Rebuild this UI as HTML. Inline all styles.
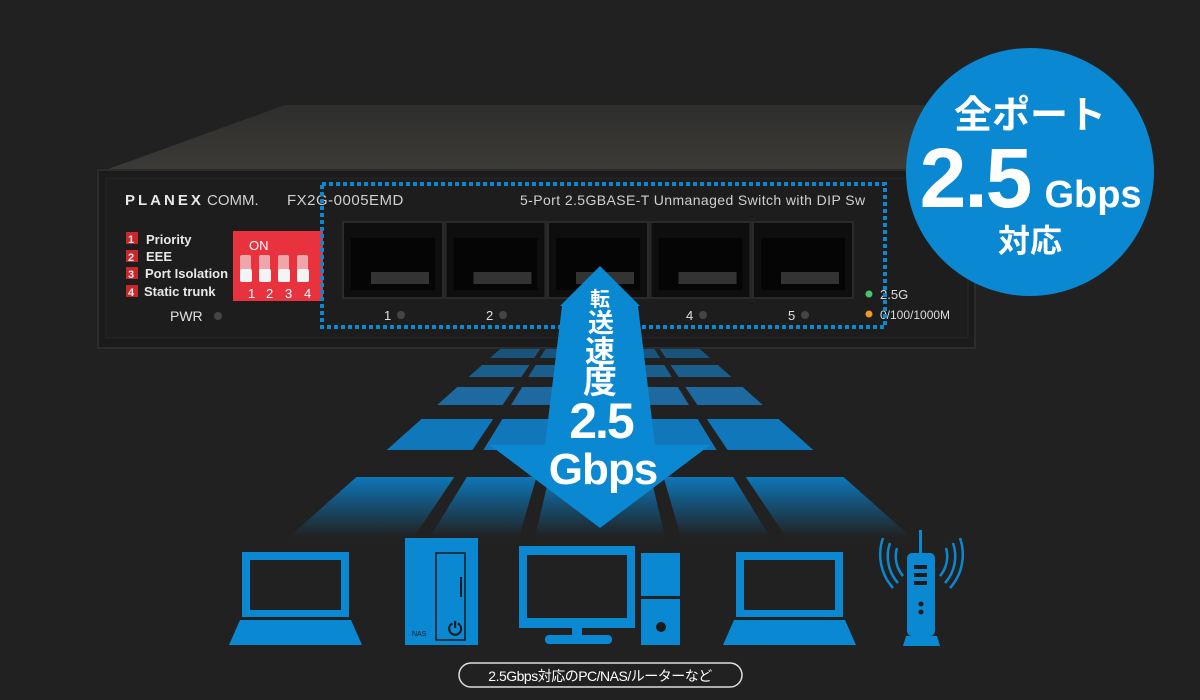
<!DOCTYPE html>
<html><head><meta charset="utf-8"><style>
html,body{margin:0;padding:0;background:#212121;}
svg{display:block}
text{font-family:"Liberation Sans","Noto Sans CJK JP",sans-serif;}
</style></head><body>
<svg id="s" width="1200" height="700" viewBox="0 0 1200 700" xmlns="http://www.w3.org/2000/svg">
<defs>
<linearGradient id="fade" x1="0" y1="0" x2="0" y2="1">
<stop offset="0" stop-color="#0b80c8" stop-opacity="0.9"/>
<stop offset="1" stop-color="#0b80c8" stop-opacity="0"/>
</linearGradient>
<linearGradient id="top" x1="0" y1="0" x2="0" y2="1">
<stop offset="0" stop-color="#2e2e2c"/><stop offset="1" stop-color="#3c3b38"/>
</linearGradient>
</defs>
<rect width="1200" height="700" fill="#212121"/>
<g id="stripes"></g>
<!-- switch -->
<polygon points="100,172 285,105 930,105 975,172" fill="url(#top)"/>
<rect x="98" y="170" width="877" height="178" fill="#1b1b1b" stroke="#2c2c2c" stroke-width="2"/>
<rect x="106" y="178" width="862" height="160" fill="#1d1d1d" stroke="#262626" stroke-width="1"/>
<text x="125" y="205" fill="#e8e8e8" font-size="15" font-weight="bold" letter-spacing="3">PLANEX</text>
<text x="207" y="205" fill="#d0d0d0" font-size="15">COMM.</text>
<text x="287" y="205" fill="#d0d0d0" font-size="15" letter-spacing="0.5">FX2G-0005EMD</text>
<text x="520" y="205" fill="#d0d0d0" font-size="14" letter-spacing="0.4">5-Port 2.5GBASE-T Unmanaged Switch with DIP Sw</text>
<g font-size="13" font-weight="bold" fill="#e8e8e8">
<rect x="126" y="232" width="12" height="12" fill="#c8282c"/><text x="128" y="243" font-size="11">1</text><text x="146" y="244">Priority</text>
<rect x="126" y="250" width="12" height="12" fill="#c8282c"/><text x="128" y="261" font-size="11">2</text><text x="146" y="261">EEE</text>
<rect x="126" y="267" width="12" height="12" fill="#c8282c"/><text x="128" y="278" font-size="11">3</text><text x="145" y="278">Port Isolation</text>
<rect x="126" y="285" width="12" height="12" fill="#c8282c"/><text x="128" y="296" font-size="11">4</text><text x="144" y="296">Static trunk</text>
</g>
<text x="170" y="321" fill="#e0e0e0" font-size="14">PWR</text>
<circle cx="218" cy="316" r="4" fill="#444"/>
<rect x="233" y="231" width="90" height="70" fill="#e8333f"/>
<text x="249" y="250" fill="#fff" font-size="13">ON</text>
<g fill="#f4f4f4">
<rect x="240" y="255" width="11" height="26" rx="2" opacity="0.6"/><rect x="259" y="255" width="11" height="26" rx="2" opacity="0.6"/><rect x="278" y="255" width="11" height="26" rx="2" opacity="0.6"/><rect x="297" y="255" width="11" height="26" rx="2" opacity="0.6"/>
<rect x="240" y="269" width="12" height="13" rx="2"/><rect x="259" y="269" width="12" height="13" rx="2"/><rect x="278" y="269" width="12" height="13" rx="2"/><rect x="297" y="269" width="12" height="13" rx="2"/>
</g>
<g fill="#fff" font-size="13"><text x="248" y="298">1</text><text x="266" y="298">2</text><text x="285" y="298">3</text><text x="304" y="298">4</text></g>
<g id="ports"></g>
<g fill="#e0e0e0" font-size="13">
<text x="384" y="320">1</text><text x="486" y="320">2</text><text x="686" y="320">4</text><text x="788" y="320">5</text>
</g>
<g fill="#444"><circle cx="401" cy="315" r="4"/><circle cx="503" cy="315" r="4"/><circle cx="703" cy="315" r="4"/><circle cx="805" cy="315" r="4"/></g>
<circle cx="869" cy="294" r="3.5" fill="#4cc26a"/><text x="880" y="299" fill="#ddd" font-size="13">2.5G</text>
<circle cx="869" cy="314" r="3.5" fill="#f0962a"/><text x="880" y="319" fill="#ddd" font-size="12">0/100/1000M</text>
<rect x="322" y="184" width="563" height="143" fill="none" stroke="#0a88d2" stroke-width="4" stroke-dasharray="4,3"/>
<!-- arrow -->
<polygon points="600,266 640,306 638,306 655,445 710,445 600,528 490,445 545,445 562,306 560,306" fill="#0a88d2"/>
<g fill="#fff" font-weight="bold" text-anchor="middle">
<text x="600" y="306" font-size="20">転</text>
<text x="601" y="332" font-size="26">送</text>
<text x="600" y="362" font-size="30">速</text>
<text x="600" y="393" font-size="34">度</text>
<text x="601" y="438" font-size="50" letter-spacing="-2">2.5</text>
<text x="603" y="484" font-size="44" letter-spacing="-1">Gbps</text>
</g>
<!-- circle -->
<circle cx="1030" cy="172" r="124" fill="#0a88d2"/>
<g fill="#fff" font-weight="bold" text-anchor="middle">
<text x="1030" y="128" font-size="38">全ポート</text>
<text x="975" y="207" font-size="84" letter-spacing="-2">2.5</text>
<text x="1093" y="207" font-size="38">Gbps</text>
<text x="1030" y="252" font-size="32">対応</text>
</g>
<!-- icons -->
<g fill="#0a88d2">
<path fill-rule="evenodd" d="M242,552h107v65h-107z M250,560v50h91v-50z"/>
<path d="M240,620h111l11,25h-133z"/>
<rect x="405" y="538" width="73" height="107"/>
<rect x="436" y="553" width="29" height="87" fill="none" stroke="#1b1b1b" stroke-width="1.5"/>
<rect x="460" y="577" width="2" height="20" fill="#1b1b1b"/>
<path fill-rule="evenodd" d="M519,546h116v82h-116z M527,555v63h100v-63z"/>
<rect x="572" y="628" width="10" height="10"/><rect x="545" y="635" width="67" height="9" rx="4"/>
<rect x="641" y="553" width="39" height="43"/><rect x="641" y="599" width="39" height="46"/>
<circle cx="661" cy="627" r="5" fill="#1b1b1b"/>
<path fill-rule="evenodd" d="M736,552h107v65h-107z M744,560v50h91v-50z"/>
<path d="M734,620h111l11,25h-133z"/>
<rect x="907" y="553" width="28" height="83" rx="5"/><rect x="919" y="530" width="3" height="25"/>
<path d="M906,636h31l3,10h-37z"/>
</g>
<g fill="#1b1b1b"><rect x="914" y="565" width="13" height="4"/><rect x="914" y="573" width="13" height="4"/><rect x="914" y="581" width="13" height="4"/><circle cx="921" cy="604" r="2.5"/><circle cx="921" cy="612" r="2.5"/></g>
<text x="412" y="636" font-size="7" fill="#1b1b1b">NAS</text>
<text x="448" y="635" font-size="18" fill="#1b1b1b" font-weight="bold">⏻</text>
<g fill="none" stroke="#0a88d2" stroke-width="2.5">
<path d="M897,548a30,30 0 0 0 6,28"/><path d="M890,543a40,40 0 0 0 8,40"/><path d="M883,538a50,50 0 0 0 10,50"/>
<path d="M946,548a30,30 0 0 1 -6,28"/><path d="M953,543a40,40 0 0 1 -8,40"/><path d="M960,538a50,50 0 0 1 -10,50"/>
</g>
<rect x="459" y="663" width="283" height="24" rx="12" fill="none" stroke="#ddd" stroke-width="1.5"/>
<text x="600" y="681" text-anchor="middle" fill="#fff" font-size="14" letter-spacing="-0.5">2.5Gbps対応のPC/NAS/ルーターなど</text>
</svg>
<script>
var ns="http://www.w3.org/2000/svg";
function el(p,t,a){var e=document.createElementNS(ns,t);for(var k in a)e.setAttribute(k,a[k]);p.appendChild(e);return e;}
var g=document.getElementById("stripes");
var rows=[[338,345,"#164a6e"],[349,358,"#19547d"],[365,377,"#1a5e8c"],[387,405,"#1d69a0"],[419,450,"#1177bb"],[477,537,"url(#fade)"]];
var cols=[[-311,-186],[-170,-81],[-65,65],[81,170],[186,311]];
function X(o,y){return 600+o*(y-260)/277;}
rows.forEach(function(r,ri){cols.forEach(function(c,ci){
if(ci==2 && ri<5) return;
var pts=[X(c[0],r[0]),r[0],X(c[1],r[0]),r[0],X(c[1],r[1]),r[1],X(c[0],r[1]),r[1]].map(function(v){return v.toFixed(1)});
el(g,"polygon",{points:pts.join(" "),fill:r[2]});});});
var p=document.getElementById("ports");
for(var i=0;i<5;i++){var x=343+i*102.5;
el(p,"rect",{x:x,y:222,width:100,height:76,fill:"#0e0e0e",stroke:"#2a2a2a","stroke-width":2});
el(p,"rect",{x:x+8,y:238,width:84,height:52,fill:"#050505"});
el(p,"rect",{x:x+28,y:272,width:58,height:12,fill:"#333"});
}
</script>
</body></html>
